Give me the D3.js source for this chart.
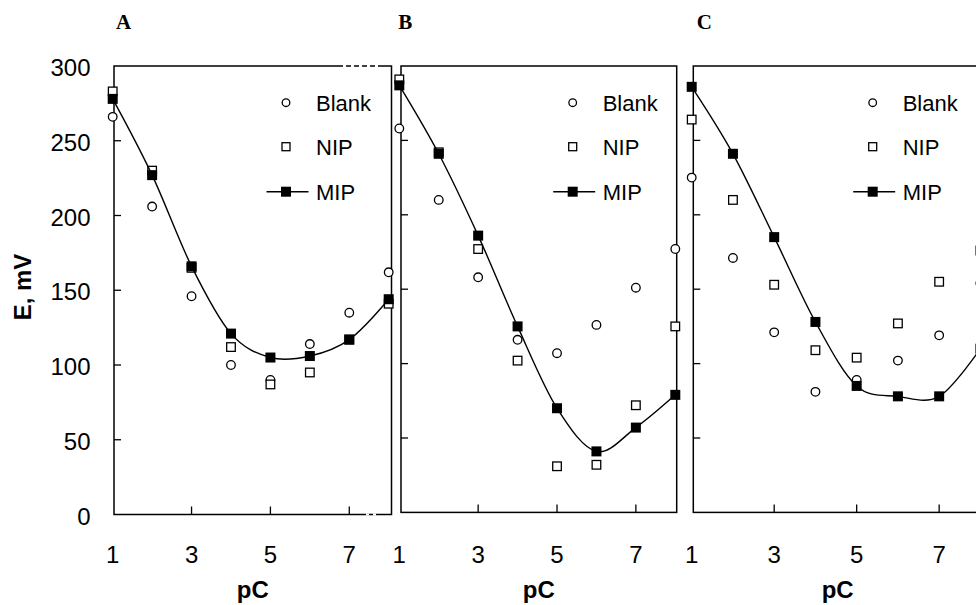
<!DOCTYPE html>
<html>
<head>
<meta charset="utf-8">
<script src="https://cdn.jsdelivr.net/npm/d3@7/dist/d3.min.js"></script>
<style>
  html, body { margin: 0; padding: 0; background: #fff; }
  svg { display: block; }
  text { font-family: "Liberation Sans", Arial, sans-serif; fill: #000; }
</style>
</head>
<body>
<svg id="chart" width="976" height="605"></svg>
<script>
// ---- data ----
const pC = [1, 2, 3, 4, 5, 6, 7, 8];
const xTickValues = [1, 3, 5, 7];
const yTickValues = [0, 50, 100, 150, 200, 250, 300];
const seriesNames = ["Blank", "NIP", "MIP"];
const panelLabels = ["A", "B", "C"];

const blankA = [266, 206, 146, 100, 90, 114, 135, 162];
const nipA   = [283, 230, 165, 112, 87, 95, 117, 141];
const mipA   = [278, 227, 166, 121, 105, 106, 117, 144];

const blankB = [258, 210, 158, 116, 107, 126, 151, 177];
const nipB   = [291, 242, 177, 102, 31, 32, 72, 125];
const mipB   = [287, 241, 186, 125, 70, 41, 57, 79];

const blankC = [225, 171, 121, 81, 89, 102, 119, 154];
const nipC   = [264, 210, 153, 109, 104, 127, 155, 176];
const mipC   = [286, 241, 185, 128, 85, 78, 78, 110];

const panelData = [
  { blank: blankA, nip: nipA, mip: mipA },
  { blank: blankB, nip: nipB, mip: mipB },
  { blank: blankC, nip: nipC, mip: mipC }
];

// ---- layout (pixels) ----
const layout = [
  { xr: [112.7, 388.7], fx: [114, 391.5], yr: [514.5, 66], yLabels: true,  labelX: 116,   legendX: 286 },
  { xr: [399.3, 675.3], fx: [401, 676.7], yr: [512.4, 66], yLabels: false, labelX: 398.3, legendX: 572.7 },
  { xr: [691.7, 980.4], fx: [693.3, 982], yr: [512.4, 66], yLabels: false, labelX: 696.7, legendX: 872.7 }
];

const svg = d3.select("#chart");

layout.forEach((L, i) => {
  const D = panelData[i];
  const g = svg.append("g");
  const x = d3.scaleLinear().domain([1, 8]).range(L.xr);
  const y = d3.scaleLinear().domain([0, 300]).range(L.yr);
  const top = y(300), bot = y(0);

  // frame
  g.append("rect")
    .attr("x", L.fx[0]).attr("y", top)
    .attr("width", L.fx[1] - L.fx[0]).attr("height", bot - top)
    .attr("fill", "#fff").attr("stroke", "#000").attr("stroke-width", 1.5);

  // inner ticks: y
  g.selectAll(".yt").data(yTickValues.filter(v => v > 0 && v < 300)).enter()
    .append("line")
    .attr("x1", L.fx[0]).attr("x2", L.fx[0] + 7)
    .attr("y1", d => y(d)).attr("y2", d => y(d))
    .attr("stroke", "#000").attr("stroke-width", 1.3);
  // inner ticks: x
  g.selectAll(".xt").data(xTickValues.filter(v => v > 1)).enter()
    .append("line")
    .attr("x1", d => x(d)).attr("x2", d => x(d))
    .attr("y1", bot).attr("y2", bot - 8)
    .attr("stroke", "#000").attr("stroke-width", 1.3);

  // x tick labels
  g.selectAll(".xl").data(xTickValues).enter()
    .append("text")
    .attr("x", d => x(d)).attr("y", 563)
    .attr("text-anchor", "middle")
    .attr("font-size", 24)
    .text(d => d);

  // y tick labels
  if (L.yLabels) {
    g.selectAll(".yl").data(yTickValues).enter()
      .append("text")
      .attr("x", 90.5).attr("y", d => y(d) + 10)
      .attr("text-anchor", "end")
      .attr("font-size", 24)
      .text(d => d);
  }

  // x title
  g.append("text")
    .attr("x", (L.fx[0] + L.fx[1]) / 2).attr("y", 598)
    .attr("text-anchor", "middle")
    .attr("font-size", 24).attr("font-weight", "bold")
    .text("pC");

  // panel label
  g.append("text")
    .attr("x", L.labelX).attr("y", 28.5)
    .style("font-family", "'Liberation Serif', 'Times New Roman', serif")
    .attr("font-size", 21).attr("font-weight", "bold")
    .text(panelLabels[i]);

  // Blank circles
  g.selectAll(".bl").data(pC).enter()
    .append("circle")
    .attr("cx", d => x(d)).attr("cy", (d, k) => y(D.blank[k]))
    .attr("r", 4.3)
    .attr("fill", "#fff").attr("stroke", "#000").attr("stroke-width", 1.3);

  // NIP squares
  const sN = 8.6;
  g.selectAll(".np").data(pC).enter()
    .append("rect")
    .attr("x", d => x(d) - sN / 2).attr("y", (d, k) => y(D.nip[k]) - sN / 2)
    .attr("width", sN).attr("height", sN)
    .attr("fill", "#fff").attr("stroke", "#000").attr("stroke-width", 1.3);

  // MIP smoothed line
  const line = d3.line()
    .x(d => x(d))
    .y((d, k) => y(D.mip[k]))
    .curve(d3.curveCatmullRom.alpha(0));
  g.append("path")
    .datum(pC)
    .attr("d", line)
    .attr("fill", "none").attr("stroke", "#000").attr("stroke-width", 1.4);

  // MIP filled squares
  const sM = 10;
  g.selectAll(".mp").data(pC).enter()
    .append("rect")
    .attr("x", d => x(d) - sM / 2).attr("y", (d, k) => y(D.mip[k]) - sM / 2)
    .attr("width", sM).attr("height", sM)
    .attr("fill", "#000");

  // legend
  const lx = L.legendX;
  const lg = g.append("g");
  lg.append("circle").attr("cx", lx).attr("cy", 102.7).attr("r", 3.8)
    .attr("fill", "#fff").attr("stroke", "#000").attr("stroke-width", 1.3);
  lg.append("rect").attr("x", lx - 4).attr("y", 146.7 - 4).attr("width", 8).attr("height", 8)
    .attr("fill", "#fff").attr("stroke", "#000").attr("stroke-width", 1.3);
  lg.append("line").attr("x1", lx - 19.5).attr("x2", lx + 22.5).attr("y1", 191.7).attr("y2", 191.7)
    .attr("stroke", "#000").attr("stroke-width", 1.4);
  lg.append("rect").attr("x", lx - 5).attr("y", 191.7 - 5).attr("width", 10).attr("height", 10)
    .attr("fill", "#000");
  const ly = [110.5, 154.5, 199.5];
  seriesNames.forEach((s, k) => {
    lg.append("text").attr("x", lx + 30).attr("y", ly[k])
      .attr("font-size", 22).text(s);
  });

  // white gaps on panel A's border (as in the reference image)
  if (i === 0) {
    g.append("line").attr("x1", 343).attr("x2", 382).attr("y1", top).attr("y2", top)
      .attr("stroke", "#fff").attr("stroke-width", 2).attr("stroke-dasharray", "3,5");
    g.append("line").attr("x1", 366).attr("x2", 380).attr("y1", bot).attr("y2", bot)
      .attr("stroke", "#fff").attr("stroke-width", 2).attr("stroke-dasharray", "3,4");
  }
});

// y-axis title
svg.append("text")
  .attr("transform", "translate(31,287) rotate(-90)")
  .attr("text-anchor", "middle")
  .attr("font-size", 24).attr("font-weight", "bold")
  .text("E, mV");
</script>
</body>
</html>
